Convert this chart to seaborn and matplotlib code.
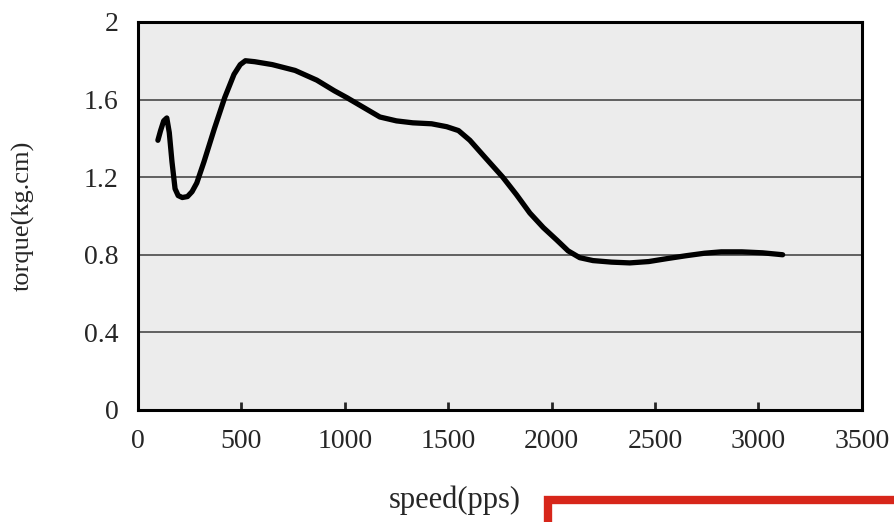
import matplotlib
matplotlib.use('Agg')
import matplotlib.pyplot as plt
import seaborn as sns
import pandas as pd
from matplotlib.patches import Rectangle

# ── data ──────────────────────────────────────────────────────────────
speed = [97, 110, 125, 140, 152, 165, 180, 195, 215, 240, 262, 285, 320,
         370, 420, 465, 495, 520, 565, 650, 760, 865, 950, 1010, 1090,
         1170, 1250, 1329, 1420, 1493, 1550, 1605, 1680, 1764, 1830, 1895,
         1960, 2025, 2080, 2136, 2200, 2290, 2378, 2470, 2557, 2650, 2740,
         2820, 2920, 3020, 3117]
torque = [1.39, 1.44, 1.49, 1.505, 1.43, 1.28, 1.14, 1.105, 1.095, 1.10,
          1.125, 1.17, 1.28, 1.45, 1.61, 1.73, 1.78, 1.80, 1.795, 1.78,
          1.75, 1.70, 1.645, 1.61, 1.56, 1.51, 1.49, 1.48, 1.475, 1.46,
          1.44, 1.39, 1.30, 1.20, 1.11, 1.015, 0.94, 0.876, 0.82, 0.785,
          0.77, 0.762, 0.758, 0.765, 0.78, 0.795, 0.808, 0.815, 0.815,
          0.81, 0.80]
x_ticks = [0, 500, 1000, 1500, 2000, 2500, 3000, 3500]
y_ticks = [0, 0.4, 0.8, 1.2, 1.6, 2]
y_tick_labels = ['0', '0.4', '0.8', '1.2', '1.6', '2']

df = pd.DataFrame({'speed': speed, 'torque': torque})

sns.set_style('white')
plt.rcParams['font.family'] = ['Liberation Serif', 'DejaVu Serif']

fig = plt.figure(figsize=(8.95, 5.22), dpi=100)
ax = fig.add_axes([0.154, 0.2146, 0.809, 0.7434])
ax.set_facecolor('#ececec')

sns.lineplot(data=df, x='speed', y='torque', ax=ax, color='black',
             linewidth=3.8, zorder=5)
ax.lines[0].set_solid_joinstyle('round')
ax.lines[0].set_solid_capstyle('round')

ax.set_xlim(0, 3500)
ax.set_ylim(0, 2)
ax.set_xticks(x_ticks)
ax.set_yticks(y_ticks)
ax.set_yticklabels(y_tick_labels)
for yv in y_ticks[1:-1]:
    ax.axhline(yv, color='#555555', linewidth=1.3, zorder=2)

ax.tick_params(axis='x', direction='in', length=6, width=2, pad=14,
               labelsize=20, top=False, bottom=True)
ax.tick_params(axis='y', length=0, pad=14, labelsize=20)
for s in ax.spines.values():
    s.set_color('black')
    s.set_linewidth(2.2)

ax.set_xlabel('speed(pps)', fontsize=22, va='center')
ax.xaxis.set_label_coords(0.438, -0.232)
ax.set_ylabel('torque(kg.cm)', fontsize=19, va='center')
ax.yaxis.set_label_coords(-0.158, 0.5)

# red box cut off at the bottom right
fig.patches.append(Rectangle((548 / 895, -0.05), 0.5, 22 / 522 + 0.05,
                             transform=fig.transFigure, facecolor='white',
                             edgecolor='#d7261a', linewidth=6, zorder=10))

fig.savefig('out.png', dpi=100)
